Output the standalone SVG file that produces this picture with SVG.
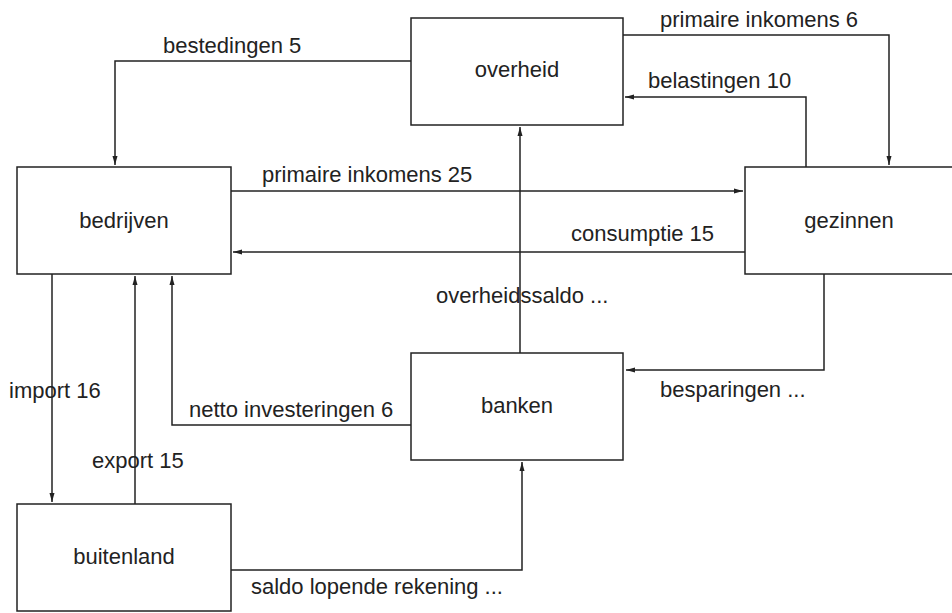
<svg xmlns="http://www.w3.org/2000/svg" width="952" height="613" viewBox="0 0 952 613">
<defs>
<style>
.box{fill:#fff;stroke:#222;stroke-width:1.5}
.lbl{font-family:"Liberation Sans",Arial,sans-serif;font-size:22px;fill:#222}
.mid{text-anchor:middle}
.con{fill:none;stroke:#222;stroke-width:1.5;marker-end:url(#arr)}
</style>
<marker id="arr" markerUnits="userSpaceOnUse" markerWidth="10" markerHeight="6" refX="9" refY="3" orient="auto">
<path d="M0,0.5 L9,3 L0,5.5 z" fill="#222"/>
</marker>
</defs>
<rect width="952" height="613" fill="#fff"/>
<g id="connectors">
<path class="con" d="M411,61 H115 V165"/>
<path class="con" d="M231,191 H743"/>
<path class="con" d="M745,252 H233"/>
<path class="con" d="M623,35 H889 V165"/>
<path class="con" d="M806,167 V97 H625"/>
<path class="con" d="M520,353 V127"/>
<path class="con" d="M824,274 V370 H626"/>
<path class="con" d="M411,425 H172 V276"/>
<path class="con" d="M52,274 V502"/>
<path class="con" d="M135,504 V276"/>
<path class="con" d="M231,570 H522 V462"/>
</g>
<g id="labels">
<text class="lbl" x="163" y="53">bestedingen 5</text>
<text class="lbl" x="262" y="182">primaire inkomens 25</text>
<text class="lbl" x="660" y="27">primaire inkomens 6</text>
<text class="lbl" x="648" y="88">belastingen 10</text>
<text class="lbl" x="571" y="241">consumptie 15</text>
<text class="lbl" x="436" y="303">overheidssaldo ...</text>
<text class="lbl" x="660" y="397">besparingen ...</text>
<text class="lbl" x="9" y="398">import 16</text>
<text class="lbl" x="92" y="468">export 15</text>
<text class="lbl" x="189" y="417">netto investeringen 6</text>
<text class="lbl" x="251" y="594">saldo lopende rekening ...</text>
</g>
<g id="overheid"><rect class="box" x="411" y="18" width="212" height="107"/><text class="lbl mid" x="517" y="77">overheid</text></g>
<g id="bedrijven"><rect class="box" x="17" y="167" width="214" height="107"/><text class="lbl mid" x="124" y="228">bedrijven</text></g>
<g id="gezinnen"><rect class="box" x="745" y="167" width="210" height="107"/><text class="lbl mid" x="849" y="228">gezinnen</text></g>
<g id="banken"><rect class="box" x="411" y="353" width="212" height="107"/><text class="lbl mid" x="517" y="413">banken</text></g>
<g id="buitenland"><rect class="box" x="17" y="504" width="214" height="107"/><text class="lbl mid" x="124" y="564">buitenland</text></g>
</svg>
